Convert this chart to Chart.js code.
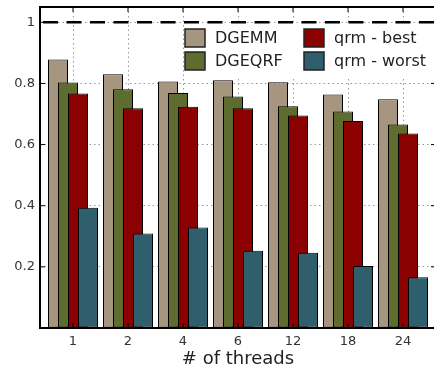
<!DOCTYPE html>
<html><head><meta charset="utf-8">
<style>html,body{margin:0;padding:0;overflow:hidden;background:#fff}canvas{display:block}</style>
<script src="https://cdn.jsdelivr.net/npm/chart.js@4"></script>
</head><body>
<canvas id="c" width="436" height="368"></canvas>
<script>
const threads = ['1','2','4','6','12','18','24'];
const dgemm    = [0.878,0.830,0.806,0.810,0.804,0.764,0.748];
const dgeqrf   = [0.803,0.781,0.769,0.757,0.725,0.708,0.666];
const qrmBest  = [0.767,0.719,0.724,0.719,0.695,0.677,0.636];
const qrmWorst = [0.393,0.309,0.329,0.253,0.246,0.203,0.166];
const seriesNames  = ['DGEMM','DGEQRF','qrm - best','qrm - worst'];
const seriesColors = ['#A69680','#5E6C2F','#8B0000','#2F5F6C'];
const yTicks = [0.2,0.4,0.6,0.8,1];
const referenceValue = 1;

Chart.defaults.font.family = "'DejaVu Sans', sans-serif";

const allSeries = [dgemm, dgeqrf, qrmBest, qrmWorst];
const datasets = allSeries.map((vals, k) => ({
  label: seriesNames[k],
  data: vals.map((v, i) => ({x: i, y: v})),
  backgroundColor: seriesColors[k],
  borderColor: '#000',
  borderWidth: 1,
  borderSkipped: false,
  barPercentage: 2,
  categoryPercentage: 40/55
}));

const drawPlugin = {
  id: 'custom',
  beforeDatasetsDraw(chart) {
    const ctx = chart.ctx, a = chart.chartArea;
    ctx.save();
    ctx.beginPath(); ctx.rect(a.left, a.top, a.width, a.height); ctx.clip();
    chart.getSortedVisibleDatasetMetas().forEach(m => m.controller.draw());
    ctx.restore();
    const y = chart.scales.y.getPixelForValue(referenceValue);
    ctx.save();
    ctx.strokeStyle = '#000'; ctx.lineWidth = 2.5;
    ctx.setLineDash([15, 8.5]); ctx.lineDashOffset = -3;
    ctx.beginPath(); ctx.moveTo(a.left, y); ctx.lineTo(a.right, y); ctx.stroke();
    ctx.restore();
    return false;
  },
  afterDraw(chart) {
    const ctx = chart.ctx, a = chart.chartArea;
    const xs = chart.scales.x, ys = chart.scales.y;
    ctx.save();
    ctx.fillStyle = '#fff';
    ctx.fillRect(a.left + 144, a.top + 18, a.right - a.left - 144, 52);
    const colX = [a.left + 145, a.left + 264];
    const rowY = [a.top + 22, a.top + 45];
    ctx.font = "16px 'DejaVu Sans', sans-serif";
    ctx.textBaseline = 'middle'; ctx.textAlign = 'left';
    seriesNames.forEach((name, k) => {
      const cx = colX[Math.floor(k / 2)], cy = rowY[k % 2];
      ctx.fillStyle = seriesColors[k];
      ctx.fillRect(cx, cy, 20, 18);
      ctx.strokeStyle = '#222'; ctx.lineWidth = 1.5;
      ctx.strokeRect(cx, cy, 20, 18);
      ctx.fillStyle = '#222';
      ctx.fillText(name, cx + 30, cy + 9.5);
    });
    ctx.strokeStyle = '#000'; ctx.lineWidth = 1;
    ctx.beginPath();
    yTicks.forEach(v => {
      const y = ys.getPixelForValue(v);
      ctx.moveTo(a.left, y); ctx.lineTo(a.left + 5, y);
      ctx.moveTo(a.right, y); ctx.lineTo(a.right - 5, y);
    });
    threads.forEach((t, i) => {
      const x = xs.getPixelForValue(i);
      ctx.moveTo(x, a.bottom); ctx.lineTo(x, a.bottom - 5);
      ctx.moveTo(x, a.top); ctx.lineTo(x, a.top + 5);
    });
    ctx.stroke();
    ctx.lineWidth = 2;
    ctx.strokeRect(a.left, a.top, a.width, a.height);
    ctx.restore();
  }
};

new Chart(document.getElementById('c'), {
  type: 'bar',
  data: { datasets },
  options: {
    responsive: false,
    animation: false,
    devicePixelRatio: 1,
    layout: { padding: { top: 7, left: 0, right: 0, bottom: 0 } },
    plugins: { legend: { display: false }, tooltip: { enabled: false } },
    scales: {
      x: {
        type: 'linear', min: -0.6, max: 6.6, offset: false,
        afterBuildTicks: s => { s.ticks = threads.map((_, i) => ({ value: i })); },
        afterFit: s => { s.height = 40; s.paddingLeft = 0; s.paddingRight = 0; },
        ticks: { callback: v => threads[v], font: { size: 13 }, color: '#333', padding: 6, maxRotation: 0, autoSkip: false },
        grid: { color: '#999', lineWidth: 1, drawTicks: false, offset: false },
        border: { display: false, dash: [1.5, 3] },
        title: { display: true, text: '# of threads', font: { size: 18, lineHeight: 1 }, color: '#222', padding: { top: 0, bottom: 0 } }
      },
      y: {
        min: 0, max: 1.05,
        afterBuildTicks: s => { s.ticks = [0, ...yTicks].map(v => ({ value: v })); },
        afterFit: s => { s.width = 40; s.paddingTop = 0; s.paddingBottom = 0; },
        ticks: { callback: v => v === 0 ? '' : String(v), font: { size: 13 }, color: '#333', padding: 5 },
        grid: { color: '#999', lineWidth: 1, drawTicks: false },
        border: { display: false, dash: [1.5, 3] }
      }
    }
  },
  plugins: [drawPlugin]
});
</script>
</body></html>
